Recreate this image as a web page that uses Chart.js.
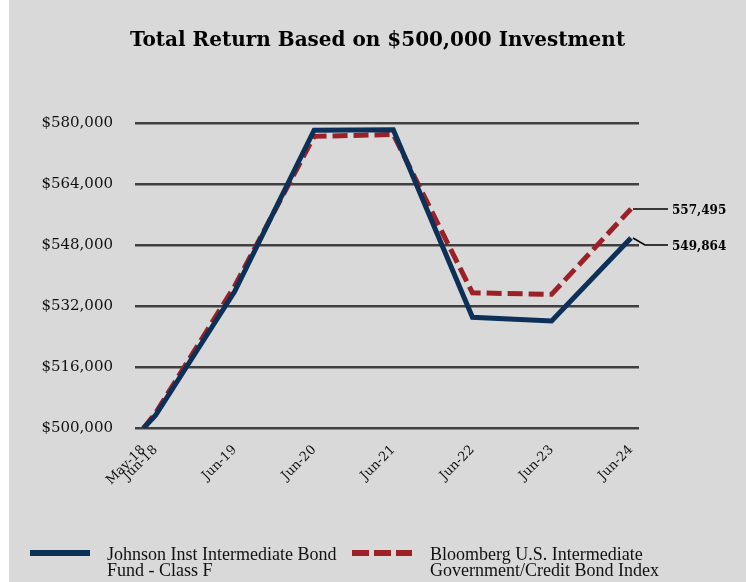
<!DOCTYPE html>
<html>
<head>
<meta charset="utf-8">
<script src="https://cdn.jsdelivr.net/npm/chart.js@4.4.1/dist/chart.umd.min.js"></script>
<style>
  body { margin: 0; background: #fff; }
  #wrap { position: absolute; left: 9px; top: 0; width: 737px; height: 582px; background: #d9d9d9; }
</style>
</head>
<body>
<div id="wrap"><canvas id="growthChart" width="737" height="582"></canvas></div>
<script>
// period end dates and their axis labels
const periodLabels = ['May-18', 'Jun-18', 'Jun-19', 'Jun-20', 'Jun-21', 'Jun-22', 'Jun-23', 'Jun-24'];
const periodDates = ['2018-05-05', '2018-06-30', '2019-06-30', '2020-06-30', '2021-06-30', '2022-06-30', '2023-06-30', '2024-06-30'];

// growth of $500,000
const fundValues = [500000, 503400, 535900, 578100, 578200, 529100, 528100, 549864];
const indexValues = [500000, 504000, 537300, 576500, 577000, 535500, 535100, 557495];

const yTicks = [500000, 516000, 532000, 548000, 564000, 580000];

const legendLabels = [
  ['Johnson Inst Intermediate Bond', 'Fund - Class F'],
  ['Bloomberg U.S. Intermediate', 'Government/Credit Bond Index']
];

const NAVY = '#0d3058';
const RED = '#9b2127';

const dayNum = d => Date.parse(d) / 86400000;
const xDays = periodDates.map(dayNum);

const toPoints = vals => vals.map((v, i) => ({ x: xDays[i], y: v }));

// end-of-line value labels with leader lines
const endLabels = {
  id: 'endLabels',
  afterDatasetsDraw(chart) {
    const ctx = chart.ctx;
    const items = chart.data.datasets.map((ds, i) => {
      const pts = chart.getDatasetMeta(i).data;
      const last = pts[pts.length - 1];
      return { x: last.x, y: last.y, value: ds.data[ds.data.length - 1].y };
    }).sort((a, b) => a.y - b.y);
    let prev = -1000;
    items.forEach(it => {
      it.ly = Math.max(it.y, prev + 36);
      prev = it.ly;
    });
    ctx.save();
    ctx.strokeStyle = '#000';
    ctx.lineWidth = 1.5;
    ctx.font = 'bold 12px "DejaVu Serif"';
    ctx.fillStyle = '#000';
    ctx.textBaseline = 'middle';
    items.forEach(it => {
      ctx.beginPath();
      ctx.moveTo(it.x + 2, it.y);
      ctx.lineTo(it.x + 14, it.ly);
      ctx.lineTo(it.x + 37, it.ly);
      ctx.stroke();
      ctx.fillText(it.value.toLocaleString('en-US'), it.x + 41, it.ly + 2);
    });
    ctx.restore();
  }
};

// legend at the bottom, two-line labels
const bottomLegend = {
  id: 'bottomLegend',
  afterDraw(chart) {
    const ctx = chart.ctx;
    const spots = [{ x: 21, tx: 98 }, { x: 343, tx: 421 }];
    ctx.save();
    chart.data.datasets.forEach((ds, i) => {
      const s = spots[i];
      ctx.beginPath();
      ctx.strokeStyle = ds.borderColor;
      ctx.lineWidth = 6;
      ctx.setLineDash(ds.borderDash ? [17, 5] : []);
      ctx.moveTo(s.x, 553);
      ctx.lineTo(s.x + 60, 553);
      ctx.stroke();
      ctx.setLineDash([]);
      ctx.fillStyle = '#111';
      ctx.font = '18px "Liberation Serif"';
      ctx.textBaseline = 'middle';
      legendLabels[i].forEach((t, j) => ctx.fillText(t, s.tx, 555 + j * 16));
    });
    ctx.restore();
  }
};

new Chart(document.getElementById('growthChart'), {
  type: 'line',
  data: {
    datasets: [{
      label: legendLabels[0].join(' '),
      data: toPoints(fundValues),
      borderColor: NAVY,
      backgroundColor: NAVY,
      borderWidth: 5,
      borderJoinStyle: 'miter',
      pointRadius: 0,
      tension: 0
    }, {
      label: legendLabels[1].join(' '),
      data: toPoints(indexValues),
      borderColor: RED,
      backgroundColor: RED,
      borderWidth: 5,
      borderDash: [15, 6],
      borderJoinStyle: 'miter',
      pointRadius: 0,
      tension: 0
    }]
  },
  options: {
    responsive: false,
    animation: false,
    layout: { padding: 0 },
    scales: {
      x: {
        type: 'linear',
        min: xDays[0] - 39,
        max: xDays[xDays.length - 1] + 37,
        afterBuildTicks: scale => { scale.ticks = xDays.map(v => ({ value: v })); },
        afterFit: scale => { scale.height = 153.7; },
        grid: { display: false },
        border: { display: false },
        ticks: {
          autoSkip: false,
          minRotation: 45,
          maxRotation: 45,
          padding: 6,
          color: '#111',
          font: { family: 'DejaVu Serif', size: 13 },
          callback: (v, i) => periodLabels[i]
        }
      },
      y: {
        min: 500000,
        max: 580000,
        afterBuildTicks: scale => { scale.ticks = yTicks.map(v => ({ value: v })); },
        afterFit: scale => { scale.width = 126; },
        grid: { color: '#404040', lineWidth: 2.5, drawTicks: false },
        border: { display: false },
        ticks: {
          padding: 22,
          color: '#111',
          font: { family: 'DejaVu Serif', size: 15 },
          callback: v => '$' + v.toLocaleString('en-US')
        }
      },
      // empty right-hand space for the end labels
      yRight: {
        position: 'right',
        display: true,
        afterFit: scale => { scale.width = 107; },
        grid: { display: false },
        border: { display: false },
        ticks: { display: false }
      }
    },
    plugins: {
      legend: { display: false },
      tooltip: { enabled: false },
      title: {
        display: true,
        text: 'Total Return Based on $500,000 Investment',
        color: '#000',
        font: { family: 'DejaVu Serif', size: 20, weight: 'bold' },
        padding: { top: 29, bottom: 70 }
      }
    }
  },
  plugins: [endLabels, bottomLegend]
});
</script>
</body>
</html>
